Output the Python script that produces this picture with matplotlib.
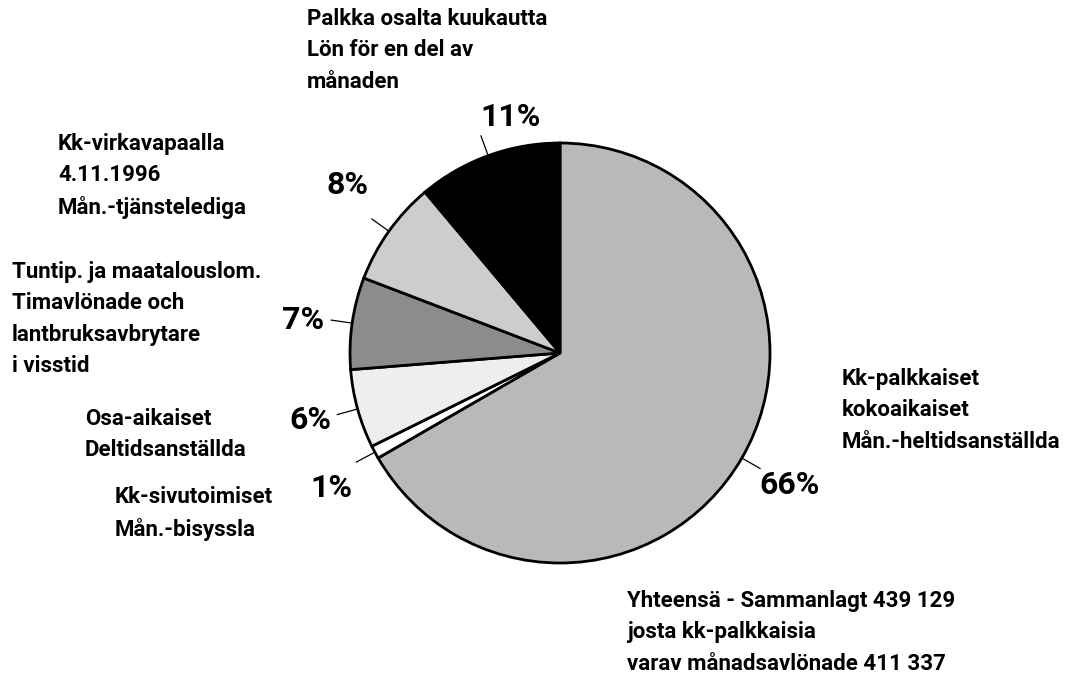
import numpy as np
import matplotlib
matplotlib.use("Agg")
import matplotlib.pyplot as plt
from matplotlib import font_manager

# Data (clockwise from 12 o'clock)
shares = [66, 1, 6, 7, 8, 11]
pct_labels = ['66%', '1%', '6%', '7%', '8%', '11%']
colors = ['#b9b9b9', '#ffffff', '#eeeeee', '#8c8c8c', '#cdcdcd', '#000000']
cat_labels = [
    'Kk-palkkaiset\nkokoaikaiset\nMån.-heltidsanställda',
    'Kk-sivutoimiset\nMån.-bisyssla',
    'Osa-aikaiset\nDeltidsanställda',
    'Tuntip. ja maatalouslom.\nTimavlönade och\nlantbruksavbrytare\ni visstid',
    'Kk-virkavapaalla\n4.11.1996\nMån.-tjänstelediga',
    'Palkka osalta kuukautta\nLön för en del av\nmånaden',
]
total_text = 'Yhteensä - Sammanlagt 439 129\njosta kk-palkkaisia\nvarav månadsavlönade 411 337'

names = {f.name for f in font_manager.fontManager.ttflist}
family = 'Roboto' if 'Roboto' in names else 'DejaVu Sans'
plt.rcParams['font.family'] = [family, 'DejaVu Sans']

W, H = 1070, 680
fig = plt.figure(figsize=(10.7, 6.8), dpi=100)
ax = fig.add_axes([0, 0, 1, 1])

cx, cy, r = 560, H - 353, 210
wedges, _ = ax.pie(shares, colors=colors, startangle=90, counterclock=False,
                   center=(cx, cy), radius=r,
                   wedgeprops=dict(edgecolor='black', linewidth=2))
ax.set_xlim(0, W)
ax.set_ylim(0, H)
ax.set_aspect('equal')
ax.axis('off')

# percentage labels (pixel positions from top-left) and leader lines
pct_pos = [(790, 485), (331, 488), (310, 420), (303, 320), (348, 185), (511, 117)]
for w, lab, (px, py) in zip(wedges, pct_labels, pct_pos):
    mid = np.deg2rad((w.theta1 + w.theta2) / 2)
    x0, y0 = cx + r * np.cos(mid), cy + r * np.sin(mid)
    x1, y1 = cx + r * 1.1 * np.cos(mid), cy + r * 1.1 * np.sin(mid)
    ax.plot([x0, x1], [y0, y1], color='black', lw=0.9)
    ax.text(px, H - py, lab, ha='center', va='center', fontsize=23, fontweight='bold')

# category labels
cat_pos = [(842, 368), (115, 486), (85, 408), (12, 261), (58, 133), (307, 8)]
for lab, (px, py) in zip(cat_labels, cat_pos):
    ax.text(px, H - py, lab, ha='left', va='top', fontsize=16, fontweight='bold',
            linespacing=1.55)

ax.text(627, H - 590, total_text, ha='left', va='top', fontsize=16,
        fontweight='bold', linespacing=1.55)

fig.savefig('out.png', dpi=100)
